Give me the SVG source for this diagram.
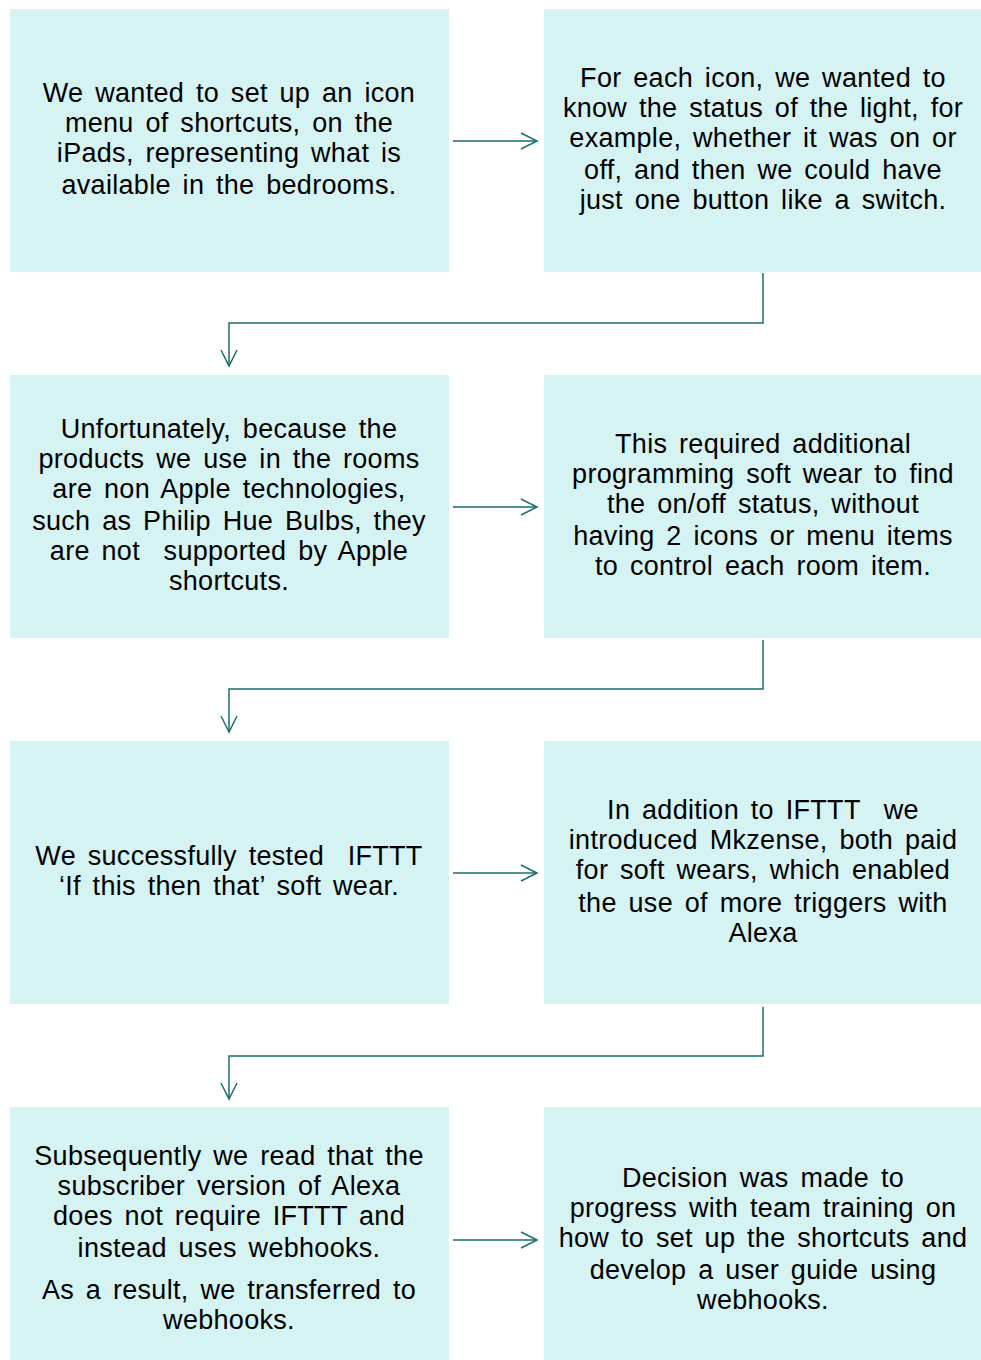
<svg xmlns="http://www.w3.org/2000/svg" width="981" height="1360" viewBox="0 0 981 1360">
<defs>
<style>
.box{fill:#d5f3f3}
.t{font-family:"Liberation Sans",Arial,sans-serif;font-size:27px;letter-spacing:0.3px;word-spacing:4px;fill:#000;text-anchor:middle}
.c{fill:none;stroke:#1a6e6e;stroke-width:1.5}
</style>
<marker id="ah" viewBox="0 0 20 20" refX="18" refY="10" markerWidth="20" markerHeight="20" markerUnits="userSpaceOnUse" orient="auto">
<path d="M2,2 L18,10 L2,18" fill="none" stroke="#1a6e6e" stroke-width="1.5"/>
</marker>
</defs>
<rect width="981" height="1360" fill="#fff"/>
<g id="n1"><rect class="box" x="10" y="9" width="439" height="263"/>
<text class="t"><tspan x="229" y="102">We wanted to set up an icon</tspan><tspan x="229" y="132">menu of shortcuts, on the</tspan><tspan x="229" y="162">iPads, representing what is</tspan><tspan x="229" y="194">available in the bedrooms.</tspan></text></g>
<g id="n2"><rect class="box" x="544" y="9" width="437" height="263"/>
<text class="t"><tspan x="763" y="87">For each icon, we wanted to</tspan><tspan x="763" y="117">know the status of the light, for</tspan><tspan x="763" y="147">example, whether it was on or</tspan><tspan x="763" y="179">off, and then we could have</tspan><tspan x="763" y="209">just one button like a switch.</tspan></text></g>
<g id="n3"><rect class="box" x="10" y="375" width="439" height="263"/>
<text class="t" xml:space="preserve"><tspan x="229" y="438">Unfortunately, because the</tspan><tspan x="229" y="468">products we use in the rooms</tspan><tspan x="229" y="498">are non Apple technologies,</tspan><tspan x="229" y="530">such as Philip Hue Bulbs, they</tspan><tspan x="229" y="560">are not  supported by Apple</tspan><tspan x="229" y="590">shortcuts.</tspan></text></g>
<g id="n4"><rect class="box" x="544" y="375" width="437" height="263"/>
<text class="t"><tspan x="763" y="453">This required additional</tspan><tspan x="763" y="483">programming soft wear to find</tspan><tspan x="763" y="513">the on/off status, without</tspan><tspan x="763" y="545">having 2 icons or menu items</tspan><tspan x="763" y="575">to control each room item.</tspan></text></g>
<g id="n5"><rect class="box" x="10" y="741" width="439" height="263"/>
<text class="t" xml:space="preserve"><tspan x="229" y="865">We successfully tested  IFTTT</tspan><tspan x="229" y="895">‘If this then that’ soft wear.</tspan></text></g>
<g id="n6"><rect class="box" x="544" y="741" width="437" height="263"/>
<text class="t" xml:space="preserve"><tspan x="763" y="819">In addition to IFTTT  we</tspan><tspan x="763" y="849">introduced Mkzense, both paid</tspan><tspan x="763" y="879">for soft wears, which enabled</tspan><tspan x="763" y="912">the use of more triggers with</tspan><tspan x="763" y="942">Alexa</tspan></text></g>
<g id="n7"><rect class="box" x="10" y="1107" width="439" height="253"/>
<text class="t"><tspan x="229" y="1165">Subsequently we read that the</tspan><tspan x="229" y="1195">subscriber version of Alexa</tspan><tspan x="229" y="1225">does not require IFTTT and</tspan><tspan x="229" y="1257">instead uses webhooks.</tspan><tspan x="229" y="1299">As a result, we transferred to</tspan><tspan x="229" y="1329">webhooks.</tspan></text></g>
<g id="n8"><rect class="box" x="544" y="1107" width="437" height="253"/>
<text class="t"><tspan x="763" y="1187">Decision was made to</tspan><tspan x="763" y="1217">progress with team training on</tspan><tspan x="763" y="1247">how to set up the shortcuts and</tspan><tspan x="763" y="1279">develop a user guide using</tspan><tspan x="763" y="1309">webhooks.</tspan></text></g>
<g id="connectors">
<path class="c" d="M453,141 H537" marker-end="url(#ah)"/>
<path class="c" d="M453,507 H537" marker-end="url(#ah)"/>
<path class="c" d="M453,873 H537" marker-end="url(#ah)"/>
<path class="c" d="M453,1240 H537" marker-end="url(#ah)"/>
<path class="c" d="M763,273 V323 H229 V366" marker-end="url(#ah)"/>
<path class="c" d="M763,640 V689 H229 V732" marker-end="url(#ah)"/>
<path class="c" d="M763,1007 V1056 H229 V1099" marker-end="url(#ah)"/>
</g>
</svg>
